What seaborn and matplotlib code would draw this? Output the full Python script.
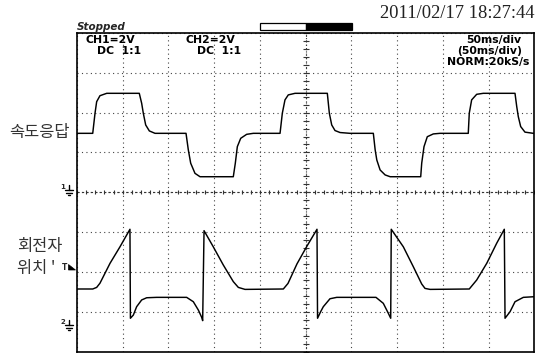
import numpy as np
import pandas as pd
import matplotlib
matplotlib.use("Agg")
import matplotlib.pyplot as plt
from matplotlib.lines import Line2D
from matplotlib.patches import Rectangle, Polygon
import seaborn as sns

# ---------------- data (time in ms, voltage in V) ----------------
ch1_t = [0, 17.2, 19.7, 21.5, 25.1, 32.5, 68.1, 70.7, 72.5, 75.1, 79.1, 85.3,
         119.2, 121.7, 124.3, 129.0, 134.5, 170.9, 173.1, 175.3, 179.0, 185.5, 192.8,
         222.0, 224.5, 227.4, 231.0, 238.4, 273.7, 275.9, 278.5, 282.1, 287.6, 298.5,
         324.0, 326.0, 327.8, 331.4, 336.9, 342.4, 375.8, 376.9, 379.4, 383.0, 389.6, 396.9,
         427.8, 428.9, 431.5, 437.0, 444.2, 478.9, 480.8, 482.5, 485.1, 489.8, 499.0, 500.0]
ch1_v = [2.96, 2.96, 3.97, 4.55, 4.85, 4.97, 4.97, 4.47, 3.97, 3.38, 3.08, 2.96,
         2.96, 2.13, 1.46, 0.95, 0.78, 0.78, 1.46, 2.29, 2.71, 2.91, 2.96,
         2.96, 3.97, 4.64, 4.89, 4.97, 4.97, 3.97, 3.38, 3.10, 3.00, 2.96,
         2.96, 2.13, 1.62, 1.12, 0.87, 0.78, 0.78, 1.46, 2.29, 2.79, 2.93, 2.96,
         2.96, 3.97, 4.64, 4.92, 4.97, 4.97, 4.30, 3.80, 3.30, 3.02, 2.96, 2.96]

ch2_t = [0, 17.2, 21.5, 25.1, 36.1, 47.0, 57.9, 58.4, 61.6, 65.2, 70.7, 76.2, 87.1,
         119.9, 127.2, 132.7, 136.3, 137.4, 138.9, 149.0, 159.9, 170.9, 176.4, 183.7,
         225.6, 230.7, 240.5, 251.5, 262.4, 263.0, 266.4, 269.3, 276.6, 284.0,
         326.9, 334.9, 340.4, 343.0, 343.6, 356.8, 367.7, 376.9, 380.5, 386.0,
         428.9, 437.0, 448.0, 458.9, 467.2, 468.0, 473.5, 478.9, 488.0, 499.0, 500.0]
ch2_v = [1.84, 1.84, 1.92, 2.13, 3.13, 3.96, 4.84, 0.37, 0.53, 0.95, 1.29, 1.40, 1.42,
         1.42, 1.20, 0.78, 0.42, 0.25, 4.77, 3.96, 3.05, 2.21, 1.92, 1.82,
         1.84, 2.12, 3.10, 4.00, 4.84, 0.37, 0.70, 0.95, 1.35, 1.42,
         1.42, 1.12, 0.62, 0.37, 4.84, 3.96, 2.96, 2.09, 1.87, 1.82,
         1.84, 2.29, 3.13, 4.14, 4.84, 0.37, 0.70, 1.20, 1.42, 1.45, 1.45]

volts_per_div = 2.0
ch1_ground_div = 0.0
ch2_ground_div = -3.35
ms_per_div = 50

header_left = ["CH1=2V", "DC  1:1"]
header_mid = ["CH2=2V", "DC  1:1"]
header_right = ["50ms/div", "(50ms/div)", "NORM:20kS/s"]
timestamp = "2011/02/17 18:27:44"
status = "Stopped"
label_ch1 = "속도응답"
label_ch2 = ["회전자", "위치 '"]

assert len(ch1_t) == len(ch1_v) and len(ch2_t) == len(ch2_v)

df1 = pd.DataFrame({"t": ch1_t, "y": np.array(ch1_v) / volts_per_div + ch1_ground_div})
df2 = pd.DataFrame({"t": ch2_t, "y": np.array(ch2_v) / volts_per_div + ch2_ground_div})

# ---------------- figure ----------------
sns.set_style("white")
plt.rcParams["font.family"] = ["DejaVu Sans"]

W, H = 542, 353
fig = plt.figure(figsize=(W / 100, H / 100), dpi=100)
L, R, T, B = 77, 534.3, 33.0, 351.5
ax = fig.add_axes([L / W, (H - B) / H, (R - L) / W, (B - T) / H])


def fx(x):
    return x / W


def fy(y):
    return 1 - y / H


ax.set_xlim(0, 10 * ms_per_div)
ax.set_ylim(-4, 4)
ax.set_xticks(np.arange(0, 10 * ms_per_div + 1, ms_per_div))
ax.set_yticks(np.arange(-4, 5, 1))
ax.tick_params(length=0, labelbottom=False, labelleft=False)
ax.grid(True, linestyle=(0, (1, 3)), color="#444444", linewidth=0.8)
for s in ax.spines.values():
    s.set_color("black")
    s.set_linewidth(1.2)

# center cross with minor ticks
cx = 5 * ms_per_div
ax.axvline(cx, color="#333333", linewidth=0.8, linestyle=(0, (1, 2)))
ax.axhline(0, color="#333333", linewidth=0.8, linestyle=(0, (2, 2)))
yt = np.arange(-4, 4.001, 0.2)
ax.plot(np.full_like(yt, cx), yt, linestyle="none", marker="_", markersize=4.5,
        color="#333333", markeredgewidth=0.8)
xt = np.arange(0, 10 * ms_per_div + 0.1, ms_per_div / 5)
ax.plot(xt, np.zeros_like(xt), linestyle="none", marker="|", markersize=3.5,
        color="#333333", markeredgewidth=0.8)

# traces
sns.lineplot(data=df1, x="t", y="y", sort=False, estimator=None, color="black",
             linewidth=1.05, ax=ax)
sns.lineplot(data=df2, x="t", y="y", sort=False, estimator=None, color="black",
             linewidth=1.05, ax=ax)
ax.set_xlabel("")
ax.set_ylabel("")

# header texts inside box
hfont = dict(fontsize=7.8, fontweight="bold", color="black", va="center")
fig.text(fx(85), fy(40), header_left[0], ha="left", **hfont)
fig.text(fx(97), fy(51), header_left[1], ha="left", **hfont)
fig.text(fx(185), fy(40), header_mid[0], ha="left", **hfont)
fig.text(fx(197), fy(51), header_mid[1], ha="left", **hfont)
fig.text(fx(494), fy(39.5), header_right[0], ha="center", **hfont)
fig.text(fx(490), fy(50.5), header_right[1], ha="center", **hfont)
fig.text(fx(488), fy(61.5), header_right[2], ha="center", **hfont)

fig.text(fx(77), fy(26.5), status, ha="left", va="center", fontsize=7.5,
         fontweight="bold", style="italic")
fig.text(fx(535), fy(14), timestamp, ha="right", va="center", fontsize=13.3,
         family="Liberation Serif", color="#222222")

# indicator bar
fig.add_artist(Rectangle((fx(260), fy(30)), fx(306) - fx(260), fy(23.3) - fy(30),
                         facecolor="white", edgecolor="black", linewidth=0.9,
                         transform=fig.transFigure))
fig.add_artist(Rectangle((fx(306), fy(30)), fx(351.7) - fx(306), fy(23.3) - fy(30),
                         facecolor="black", edgecolor="black", linewidth=0.9,
                         transform=fig.transFigure))

# Korean labels
kfont = dict(fontsize=11.8, family=["Noto Sans CJK KR", "DejaVu Sans"],
             color="#333333", va="center", ha="left")
fig.text(fx(9), fy(133), label_ch1, **kfont)
fig.text(fx(17), fy(246), label_ch2[0], **kfont)
fig.text(fx(17), fy(268), label_ch2[1], **kfont)


# ground markers
def ground(num, x, y):
    fig.text(fx(x - 6), fy(y - 3), num, fontsize=5, fontweight="bold",
             ha="center", va="center")
    segs = [((x, y - 5), (x, y)), ((x - 4, y), (x + 4, y)),
            ((x - 3, y + 2.5), (x + 3, y + 2.5)), ((x - 1.5, y + 5), (x + 1.5, y + 5))]
    for (x0, y0), (x1, y1) in segs:
        fig.add_artist(Line2D([fx(x0), fx(x1)], [fy(y0), fy(y1)], color="black",
                              linewidth=1.0, transform=fig.transFigure))


ground("1", 69, 190)
ground("2", 69, 325)

# trigger marker
fig.text(fx(65), fy(267.5), "T", fontsize=5.5, fontweight="bold", ha="center", va="center")
fig.add_artist(Polygon([(fx(68.5), fy(270)), (fx(75.5), fy(270)), (fx(68.5), fy(264.5))],
                       closed=True, facecolor="black", edgecolor="black", linewidth=0.5,
                       transform=fig.transFigure))

fig.savefig("out.png", dpi=100)
